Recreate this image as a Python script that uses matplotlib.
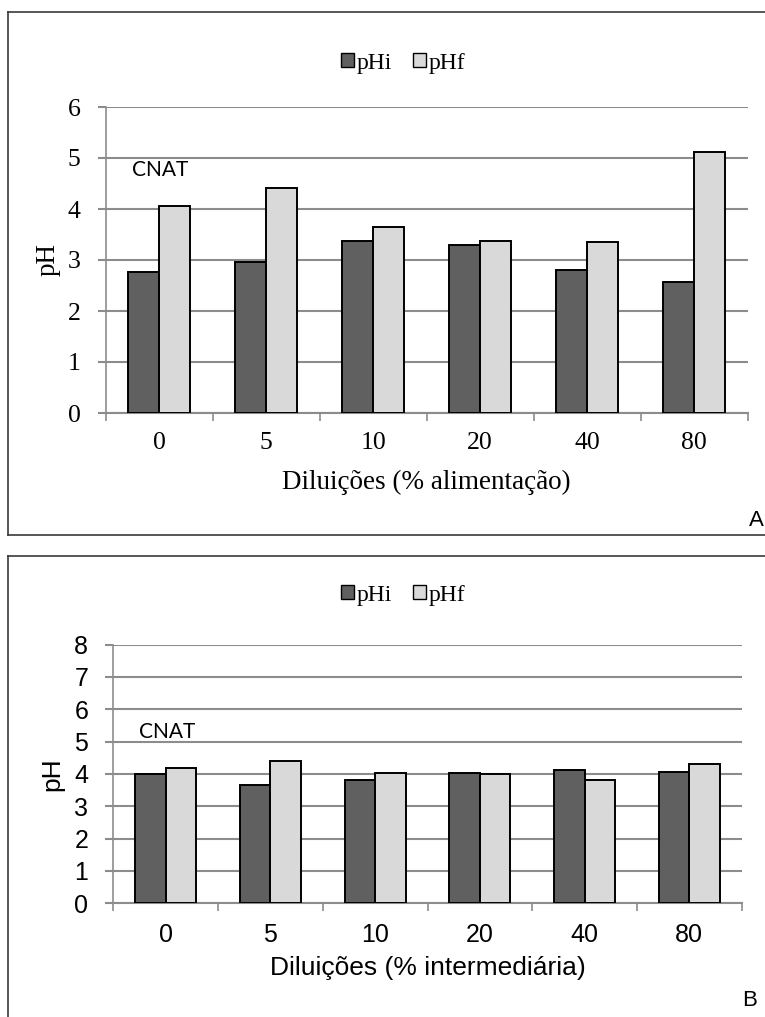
import numpy as np
import matplotlib
matplotlib.use("Agg")
from matplotlib import pyplot as plt
from matplotlib.lines import Line2D
from matplotlib.patches import Patch

# data
dilutions = ["0", "5", "10", "20", "40", "80"]
pHi_A = [2.76, 2.96, 3.37, 3.30, 2.80, 2.57]
pHf_A = [4.05, 4.41, 3.65, 3.37, 3.36, 5.11]
pHi_B = [3.99, 3.65, 3.81, 4.02, 4.12, 4.05]
pHf_B = [4.19, 4.41, 4.03, 3.99, 3.80, 4.31]

W, H = 765, 1017
DARK = "#606060"
LIGHT = "#d9d9d9"
GRID = "#8c8c8c"


def px_axes(fig, left, top, right, bottom):
    return fig.add_axes([left / W, 1 - bottom / H, (right - left) / W, (bottom - top) / H])


def frame_line(fig, x0, y0, x1, y1):
    fig.add_artist(Line2D([x0 / W, x1 / W], [1 - y0 / H, 1 - y1 / H],
                          transform=fig.transFigure, color="#3a3a3a", lw=1.2))


def draw_panel(ax, pHi, pHf, ymax, font, tick_size, label_size, xlabel, cnat_y,
               xpad, xlabelpad, ylabelpad):
    x = np.arange(len(dilutions))
    bw = 0.29
    ax.bar(x - bw / 2, pHi, bw, color=DARK, edgecolor="black", lw=1.4, zorder=3)
    ax.bar(x + bw / 2, pHf, bw, color=LIGHT, edgecolor="black", lw=1.4, zorder=3)
    ax.set_xlim(-0.5, len(dilutions) - 0.5)
    ax.set_ylim(0, ymax)
    ax.set_yticks(range(0, ymax + 1))
    ax.yaxis.grid(True, color=GRID, lw=1.5, zorder=0)
    ax.set_axisbelow(True)
    for s in ["top", "right"]:
        ax.spines[s].set_visible(False)
    ax.spines["left"].set_color(GRID)
    ax.spines["left"].set_linewidth(1.2)
    ax.spines["bottom"].set_color(GRID)
    ax.spines["bottom"].set_linewidth(1.5)
    # ticks between categories, labels centred
    ax.set_xticks(np.arange(-0.5, len(dilutions)), minor=False)
    ax.set_xticklabels([])
    ax.set_xticks(x, minor=True)
    ax.set_xticklabels(dilutions, minor=True, fontfamily=font, fontsize=tick_size)
    ax.tick_params(axis="x", which="major", length=6, color=GRID, width=1.2)
    ax.tick_params(axis="x", which="minor", length=0, pad=xpad)
    ax.tick_params(axis="y", length=6, color=GRID, width=1.5, pad=12)
    for lab in ax.get_yticklabels():
        lab.set_fontfamily(font)
        lab.set_fontsize(tick_size)
    ax.set_xlabel(xlabel, fontfamily=font, fontsize=label_size, labelpad=xlabelpad)
    ax.set_ylabel("pH", fontfamily=font, fontsize=label_size, labelpad=ylabelpad)
    ax.text(-0.25, cnat_y, "CNAT", fontfamily="Lato", fontsize=15,
            ha="left", va="center")


fig = plt.figure(figsize=(W / 100, H / 100), dpi=100)

frame_line(fig, 8, 12, W + 5, 12)
frame_line(fig, 8, 12, 8, 535)
frame_line(fig, 8, 535, W + 5, 535)
frame_line(fig, 8, 556, W + 5, 556)
frame_line(fig, 8, 556, 8, H + 5)

axA = px_axes(fig, 105.7, 107, 747.7, 413)
draw_panel(axA, pHi_A, pHf_A, 6, "Liberation Serif", 18.5, 19.5,
           "Diluições (% alimentação)", 4.76, 13.5, 11.5, 5)
axB = px_axes(fig, 113.3, 644.6, 741.7, 903.3)
draw_panel(axB, pHi_B, pHf_B, 8, "Liberation Sans", 18, 19,
           "Diluições (% intermediária)", 5.3, 14, 7, 7)

handles = [Patch(facecolor=DARK, edgecolor="black", lw=1),
           Patch(facecolor=LIGHT, edgecolor="black", lw=1)]
for y in [63, 595]:
    fig.legend(handles, ["pHi", "pHf"], loc="center", bbox_to_anchor=(403 / W, 1 - y / H),
               ncol=2, frameon=False, prop={"family": "Liberation Serif", "size": 17},
               handlelength=0.55, handleheight=0.55, handletextpad=0.1, columnspacing=0.9)

fig.text(756 / W, 1 - 520 / H, "A", fontfamily="Liberation Sans", fontsize=16,
         ha="center", va="center")
fig.text(750 / W, 1 - 1000 / H, "B", fontfamily="Liberation Sans", fontsize=16,
         ha="center", va="center")

fig.savefig("out.png", dpi=100)
